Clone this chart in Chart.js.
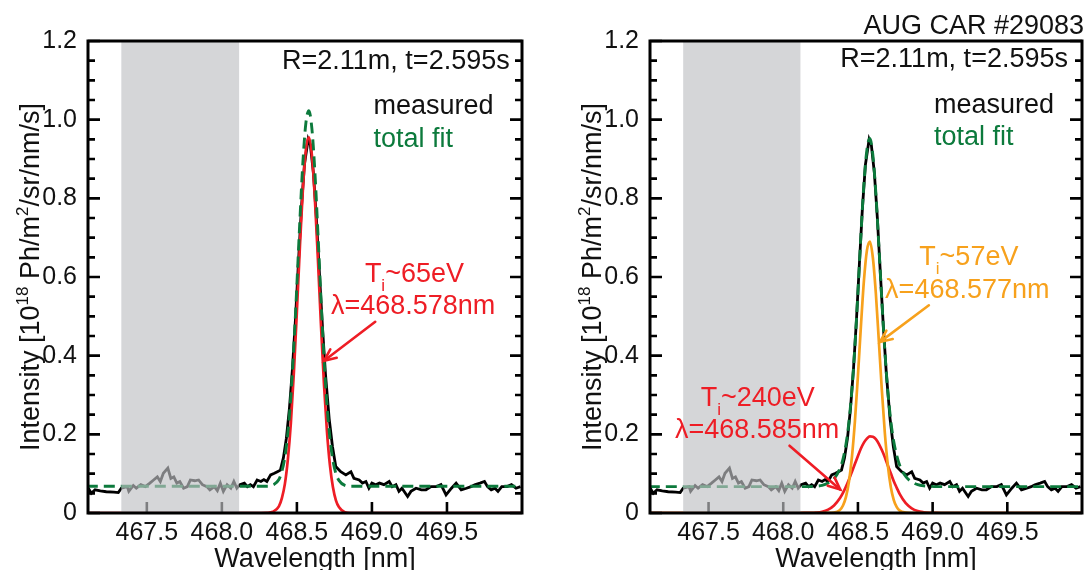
<!DOCTYPE html>
<html><head><meta charset="utf-8">
<script src="https://cdn.jsdelivr.net/npm/chart.js@4.4.1/dist/chart.umd.min.js"></script>
<style>
html,body{margin:0;padding:0;background:#fff;}
#wrap{position:relative;width:1085px;height:570px;overflow:hidden;background:#fff;}
canvas{position:absolute;top:0;}
</style></head><body>
<div id="wrap">
<canvas id="c1" width="542" height="570" style="left:0px"></canvas>
<canvas id="c2" width="543" height="570" style="left:542px"></canvas>
</div>
<script>
// ---------- data ----------
const measuredX = [467.110,467.130,467.155,467.190,467.230,467.280,467.310,467.330,467.370,467.380,467.410,467.430,467.460,467.490,467.520,467.545,467.570,467.590,467.610,467.640,467.660,467.680,467.700,467.720,467.745,467.770,467.790,467.820,467.845,467.870,467.900,467.920,467.950,467.970,467.990,468.010,468.035,468.060,468.080,468.100,468.120,468.150,468.170,468.190,468.210,468.235,468.260,468.280,468.300,468.325,468.350,468.370,468.390,468.410,468.430,468.450,468.470,468.490,468.510,468.530,468.550,468.575,468.590,468.610,468.630,468.650,468.670,468.690,468.715,468.737,468.759,468.792,468.826,468.860,468.880,468.915,468.937,468.960,468.980,469.000,469.025,469.050,469.080,469.115,469.135,469.160,469.180,469.200,469.238,469.260,469.294,469.330,469.360,469.394,469.430,469.460,469.494,469.530,469.561,469.595,469.630,469.660,469.685,469.720,469.750,469.770,469.795,469.820,469.840,469.865,469.900,469.930,469.960,469.990];
const measuredY = [0.063,0.050,0.059,0.056,0.054,0.053,0.052,0.063,0.067,0.055,0.070,0.063,0.072,0.067,0.076,0.084,0.092,0.080,0.101,0.114,0.088,0.092,0.076,0.080,0.063,0.067,0.084,0.082,0.084,0.072,0.067,0.059,0.067,0.057,0.076,0.055,0.072,0.063,0.080,0.063,0.072,0.076,0.067,0.072,0.067,0.084,0.080,0.085,0.080,0.097,0.101,0.105,0.109,0.140,0.190,0.265,0.365,0.490,0.635,0.775,0.885,0.950,0.935,0.865,0.750,0.610,0.475,0.355,0.240,0.169,0.118,0.105,0.097,0.105,0.088,0.084,0.076,0.080,0.063,0.076,0.072,0.076,0.072,0.080,0.067,0.072,0.055,0.063,0.042,0.055,0.063,0.059,0.059,0.067,0.067,0.072,0.046,0.063,0.076,0.059,0.063,0.067,0.072,0.076,0.080,0.067,0.059,0.063,0.055,0.067,0.067,0.072,0.063,0.067];

const fitX = [467.10,468.00,468.10,468.14,468.18,468.22,468.26,468.30,468.34,468.38,468.40,468.42,468.44,468.46,468.48,468.50,468.52,468.54,468.56,468.58,468.60,468.62,468.64,468.66,468.68,468.70,468.72,468.74,468.76,468.78,468.82,468.86,468.90,468.94,468.98,469.02,469.06,469.10,470.00];
// left panel: single component (Ti~65eV) and total fit
const leftComponent = [0,0,0,0,0,0,0,0.0004,0.003,0.017,0.038,0.074,0.137,0.230,0.358,0.513,0.677,0.824,0.924,0.955,0.909,0.798,0.645,0.481,0.330,0.209,0.122,0.066,0.032,0.015,0.002,0,0,0,0,0,0,0,0];
const leftTotalFit = [0.068,0.068,0.068,0.068,0.068,0.068,0.068,0.068,0.071,0.085,0.106,0.142,0.205,0.298,0.426,0.581,0.745,0.892,0.992,1.023,0.977,0.866,0.713,0.549,0.398,0.277,0.190,0.134,0.100,0.083,0.070,0.068,0.068,0.068,0.068,0.068,0.068,0.068,0.068];
// right panel: narrow (Ti~57eV), broad (Ti~240eV) and total fit
const rightNarrow = [0,0,0,0,0,0,0,0.0001,0.001,0.008,0.019,0.041,0.080,0.143,0.234,0.349,0.475,0.590,0.667,0.690,0.649,0.558,0.437,0.313,0.204,0.122,0.066,0.033,0.015,0.006,0.001,0,0,0,0,0,0,0,0];
const rightBroad = [0,0,0,0.0001,0.0004,0.0012,0.0033,0.0085,0.019,0.038,0.051,0.067,0.085,0.105,0.125,0.145,0.164,0.179,0.189,0.195,0.194,0.188,0.176,0.160,0.142,0.121,0.101,0.081,0.064,0.048,0.025,0.012,0.005,0.002,0.0006,0.0001,0,0,0];
const rightTotalFit = [0.067,0.067,0.067,0.067,0.067,0.068,0.070,0.076,0.087,0.113,0.137,0.175,0.232,0.315,0.426,0.561,0.706,0.836,0.923,0.952,0.910,0.813,0.680,0.540,0.413,0.310,0.234,0.181,0.146,0.121,0.093,0.079,0.072,0.069,0.068,0.067,0.067,0.067,0.067];

const xTickValues = [467.5, 468.0, 468.5, 469.0, 469.5];
const yTickValues = [0, 0.2, 0.4, 0.6, 0.8, 1.0, 1.2];
const xRange = [467.108, 470.0];
const yRange = [0, 1.2];
const excludedBand = [467.33, 468.115];

// ---------- style ----------
const FONT = "'Liberation Sans', Arial, Helvetica, sans-serif";
const BLACK = '#111111', GREEN = '#0c7a3c', RED = '#ee1d25', ORANGE = '#f7a11c';

const pts = (xs, ys) => xs.map((x, i) => ({x: x, y: ys[i]}));

function drawRich(ctx, segs, x, y, align, color, size) {
  const small = Math.round(size * 0.62);
  let w = 0;
  const parts = segs.map(s => {
    const fs = (s.sub || s.sup) ? small : size;
    ctx.font = fs + 'px ' + FONT;
    const m = ctx.measureText(s.t).width;
    w += m;
    return {s: s, fs: fs, m: m};
  });
  let cx = align === 'right' ? x - w : (align === 'center' ? x - w / 2 : x);
  ctx.fillStyle = color; ctx.textBaseline = 'alphabetic'; ctx.textAlign = 'left';
  parts.forEach(p => {
    ctx.font = p.fs + 'px ' + FONT;
    const dy = p.s.sub ? 9 : (p.s.sup ? -11 : 0);
    ctx.fillText(p.s.t, cx, y + dy);
    cx += p.m;
  });
}

function arrow(ctx, x1, y1, x2, y2, color) {
  ctx.strokeStyle = color; ctx.lineWidth = 2.6; ctx.lineCap = 'round';
  ctx.beginPath(); ctx.moveTo(x1, y1); ctx.lineTo(x2, y2); ctx.stroke();
  const ang = Math.atan2(y2 - y1, x2 - x1), L = 13, sp = 0.42;
  ctx.beginPath();
  ctx.moveTo(x2 - L * Math.cos(ang - sp), y2 - L * Math.sin(ang - sp));
  ctx.lineTo(x2, y2);
  ctx.lineTo(x2 - L * Math.cos(ang + sp), y2 - L * Math.sin(ang + sp));
  ctx.stroke();
}

const decor = {
  id: 'decor',
  afterDatasetsDraw(chart, args, opts) {
    const ctx = chart.ctx, a = chart.chartArea, xs = chart.scales.x, ys = chart.scales.y;
    ctx.save();
    // inward tick marks
    ctx.strokeStyle = '#000'; ctx.lineWidth = 2.6; ctx.lineCap = 'butt';
    for (let i = 0; i <= 24; i++) {
      const v = i * 0.05;
      const py = ys.getPixelForValue(v);
      const len = (i % 4 === 0) ? 12 : 7;
      ctx.beginPath();
      ctx.moveTo(a.left, py); ctx.lineTo(a.left + len, py);
      ctx.moveTo(a.right, py); ctx.lineTo(a.right - len, py);
      ctx.stroke();
    }
    xTickValues.forEach(v => {
      const px = xs.getPixelForValue(v);
      ctx.beginPath(); ctx.moveTo(px, a.bottom); ctx.lineTo(px, a.bottom - 11); ctx.stroke();
    });
    // shaded band
    const b1 = xs.getPixelForValue(excludedBand[0]), b2 = xs.getPixelForValue(excludedBand[1]);
    ctx.fillStyle = 'rgba(191,192,196,0.655)';
    ctx.fillRect(b1, a.top, b2 - b1, a.bottom - a.top);
    // frame
    ctx.strokeStyle = '#000'; ctx.lineWidth = 3;
    ctx.strokeRect(a.left, a.top, a.right - a.left, a.bottom - a.top);
    // axis titles
    drawRich(ctx, [{t: 'Wavelength [nm]'}], (a.left + a.right) / 2 + 10, 567, 'center', BLACK, 27);
    ctx.save();
    ctx.translate(opts.yTitleX, (a.top + a.bottom) / 2);
    ctx.rotate(-Math.PI / 2);
    drawRich(ctx, [{t: 'Intensity [10'}, {t: '18', sup: true}, {t: ' Ph/m'}, {t: '2', sup: true}, {t: '/sr/nm/s]'}], 0, 0, 'center', BLACK, 27);
    ctx.restore();
    // annotations
    opts.texts.forEach(t => {
      drawRich(ctx, t.segs, xs.getPixelForValue(t.x), ys.getPixelForValue(t.y), t.align, t.color, 27);
    });
    opts.arrows.forEach(r => {
      arrow(ctx, xs.getPixelForValue(r.from[0]), ys.getPixelForValue(r.from[1]),
                 xs.getPixelForValue(r.to[0]), ys.getPixelForValue(r.to[1]), r.color);
    });
    ctx.restore();
  }
};

function makeChart(id, datasets, panel) {
  return new Chart(document.getElementById(id), {
    type: 'line',
    data: {datasets: datasets},
    options: {
      responsive: false, animation: false, devicePixelRatio: 1,
      layout: {padding: {top: 41, right: panel.padRight, bottom: 0, left: 0}},
      elements: {point: {radius: 0}, line: {fill: false}},
      plugins: {legend: {display: false}, tooltip: {enabled: false}, decor: panel},
      scales: {
        x: {
          type: 'linear', min: xRange[0], max: xRange[1],
          afterFit: s => { s.height = 57; },
          afterBuildTicks: s => { s.ticks = xTickValues.map(v => ({value: v})); },
          grid: {display: false, drawTicks: false}, border: {display: false},
          ticks: {color: BLACK, font: {family: FONT, size: 25}, padding: 5, maxRotation: 0, autoSkip: false,
                  callback: v => Number(v).toFixed(1)}
        },
        y: {
          type: 'linear', min: yRange[0], max: yRange[1],
          afterFit: s => { s.width = panel.axisW; },
          afterBuildTicks: s => { s.ticks = yTickValues.map(v => ({value: v})); },
          grid: {display: false, drawTicks: false}, border: {display: false},
          ticks: {color: BLACK, font: {family: FONT, size: 25}, padding: 11,
                  callback: v => v === 0 ? '0' : Number(v).toFixed(1)}
        }
      }
    },
    plugins: [decor]
  });
}

const lineBase = {pointRadius: 0, fill: false};

makeChart('c1', [
  Object.assign({label: 'total fit', data: pts(fitX, leftTotalFit), borderColor: GREEN, borderWidth: 2.9, borderDash: [11, 6], cubicInterpolationMode: 'monotone', order: 1}, lineBase),
  Object.assign({label: 'Ti~65eV', data: pts(fitX, leftComponent), borderColor: RED, borderWidth: 2.7, cubicInterpolationMode: 'monotone', order: 2}, lineBase),
  Object.assign({label: 'measured', data: pts(measuredX, measuredY), borderColor: '#000', borderWidth: 2.8, tension: 0, order: 3}, lineBase)
], {
  padRight: 20, axisW: 88, yTitleX: 39,
  texts: [
    {segs: [{t: 'R=2.11m, t=2.595s'}], x: 469.918, y: 1.130, align: 'right', color: BLACK},
    {segs: [{t: 'measured'}], x: 469.01, y: 1.014, align: 'left', color: BLACK},
    {segs: [{t: 'total fit'}], x: 469.01, y: 0.9305, align: 'left', color: GREEN},
    {segs: [{t: 'T'}, {t: 'i', sub: true}, {t: '~65eV'}], x: 468.953, y: 0.588, align: 'left', color: RED},
    {segs: [{t: 'λ=468.578nm'}], x: 468.727, y: 0.505, align: 'left', color: RED}
  ],
  arrows: [{from: [469.022, 0.486], to: [468.681, 0.387], color: RED}]
});

makeChart('c2', [
  Object.assign({label: 'total fit', data: pts(fitX, rightTotalFit), borderColor: GREEN, borderWidth: 2.9, borderDash: [11, 6], cubicInterpolationMode: 'monotone', order: 1}, lineBase),
  Object.assign({label: 'Ti~57eV', data: pts(fitX, rightNarrow), borderColor: ORANGE, borderWidth: 2.7, cubicInterpolationMode: 'monotone', order: 2}, lineBase),
  Object.assign({label: 'Ti~240eV', data: pts(fitX, rightBroad), borderColor: RED, borderWidth: 2.7, cubicInterpolationMode: 'monotone', order: 3}, lineBase),
  Object.assign({label: 'measured', data: pts(measuredX, measuredY), borderColor: '#000', borderWidth: 2.8, tension: 0, order: 4}, lineBase)
], {
  padRight: 3, axisW: 108, yTitleX: 59,
  texts: [
    {segs: [{t: 'AUG CAR #29083'}], x: 470.014, y: 1.219, align: 'right', color: BLACK},
    {segs: [{t: 'R=2.11m, t=2.595s'}], x: 469.906, y: 1.134, align: 'right', color: BLACK},
    {segs: [{t: 'measured'}], x: 469.009, y: 1.017, align: 'left', color: BLACK},
    {segs: [{t: 'total fit'}], x: 469.009, y: 0.935, align: 'left', color: GREEN},
    {segs: [{t: 'T'}, {t: 'i', sub: true}, {t: '~57eV'}], x: 468.911, y: 0.630, align: 'left', color: ORANGE},
    {segs: [{t: 'λ=468.577nm'}], x: 468.682, y: 0.546, align: 'left', color: ORANGE},
    {segs: [{t: 'T'}, {t: 'i', sub: true}, {t: '~240eV'}], x: 467.447, y: 0.273, align: 'left', color: RED},
    {segs: [{t: 'λ=468.585nm'}], x: 467.275, y: 0.190, align: 'left', color: RED}
  ],
  arrows: [
    {from: [468.975, 0.528], to: [468.648, 0.435], color: ORANGE},
    {from: [468.042, 0.171], to: [468.381, 0.060], color: RED}
  ]
});
</script>
</body></html>
